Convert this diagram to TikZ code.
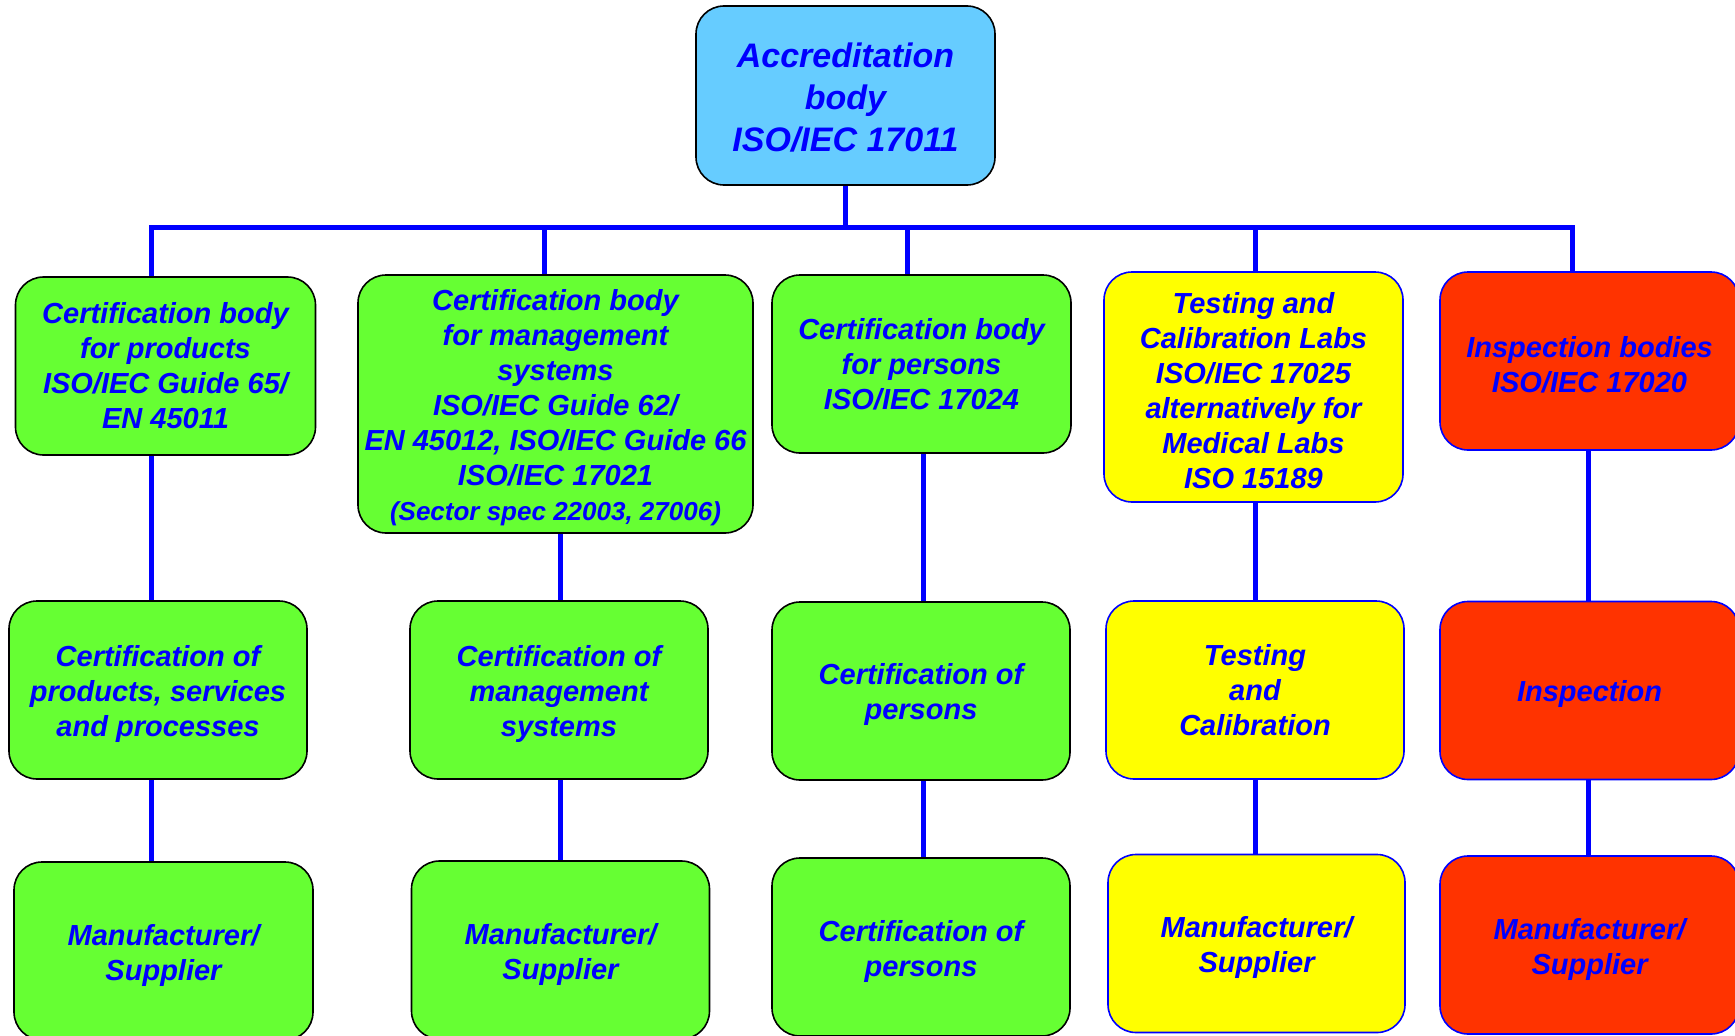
\documentclass[tikz,border=0pt]{standalone}
\usepackage{fontspec}
\setmainfont{Liberation Sans}
\usepackage{xcolor}
\usepackage{tikz}

\definecolor{accblue}{HTML}{66CCFF}
\definecolor{boxgreen}{HTML}{66FF33}
\definecolor{boxyellow}{HTML}{FFFF00}
\definecolor{boxred}{HTML}{FF3300}
\definecolor{txtblue}{HTML}{0000FF}

% pushes the first line down a little
\newcommand{\lift}{\rule{0pt}{29pt}}

\tikzset{
    orgbox/.style={draw=black, line width=1.6pt, rounded corners=28pt,
        minimum width=298pt, minimum height=178pt, inner sep=2pt,
        align=center, text=txtblue,
        font=\fontsize{29}{35}\selectfont\bfseries\itshape},
    greenbox/.style={orgbox, fill=boxgreen},
    yellowbox/.style={orgbox, fill=boxyellow, draw=txtblue},
    redbox/.style={orgbox, fill=boxred, draw=txtblue},
    link/.style={draw=txtblue, line width=5pt},
}

\begin{document}
\begin{tikzpicture}[x=1pt,y=-1pt]
    \useasboundingbox (0,0) rectangle (1735,1036);
    % Draw the accreditation body
    \node[orgbox, fill=accblue, minimum width=299pt, minimum height=179pt,
        font=\fontsize{34}{42}\selectfont\bfseries\itshape] (acc) at (845.5,95.5)
        {\lift Accreditation\\body\\ISO/IEC 17011};
    % Draw the bodies
    \node[greenbox, minimum width=300pt] (cbp) at (165.5,366)
        {Certification body\\for products\\ISO/IEC Guide 65/\\EN 45011};
    \node[greenbox, minimum width=395pt, minimum height=258pt] (cbm) at (555.5,404)
        {\lift Certification body\\for management\\systems\\ISO/IEC Guide 62/\\EN 45012, ISO/IEC Guide 66\\ISO/IEC 17021\\{\fontsize{26}{30}\selectfont(Sector spec 22003, 27006)}};
    \node[greenbox, minimum width=299pt] (cbpers) at (921.5,364)
        {Certification body\\for persons\\ISO/IEC 17024};
    \node[yellowbox, minimum width=299pt, minimum height=230pt] (lab) at (1253.5,387)
        {\lift Testing and\\Calibration Labs\\ISO/IEC 17025\\alternatively for\\Medical Labs\\ISO 15189};
    \node[redbox, minimum width=299pt] (insp) at (1589.5,361)
        {\lift Inspection bodies\\ISO/IEC 17020};
    % Draw the certification fields
    \node[greenbox] (certprod) at (158,690) {\lift Certification of\\products, services\\and processes};
    \node[greenbox] (certmgmt) at (559,690) {\lift Certification of\\management\\systems};
    \node[greenbox] (certpers) at (921,691) {\lift Certification of\\persons};
    \node[yellowbox] (testcal) at (1255,690) {Testing\\and\\Calibration};
    \node[redbox, minimum width=299pt] (inspect) at (1589.5,690.5) {\lift Inspection};
    % Draw the clients
    \node[greenbox, minimum width=299pt] (mfr1) at (163.5,951) {\lift Manufacturer/\\Supplier};
    \node[greenbox] (mfr2) at (560.5,950) {\lift Manufacturer/\\Supplier};
    \node[greenbox] (pers) at (921,947) {\lift Certification of\\persons};
    \node[yellowbox, minimum width=297pt] (mfr4) at (1256.5,943.5) {\lift Manufacturer/\\Supplier};
    \node[redbox, minimum width=299pt] (mfr5) at (1589.5,945) {\lift Manufacturer/\\Supplier};
    % Draw the bus
    \coordinate (t1) at (151,227);
    \coordinate (t2) at (544,227);
    \coordinate (t3) at (907,227);
    \coordinate (t4) at (1255,227);
    \coordinate (t5) at (1572,227);
    \coordinate (c1) at (151,0);
    \coordinate (c2) at (560,0);
    \coordinate (c3) at (923,0);
    \coordinate (c4) at (1255,0);
    \coordinate (c5) at (1588,0);
    \draw[link] (acc.south) -- (acc.south |- t1);
    \draw[link, line join=miter] (cbp.north -| t1) -- (t1) -- (t5) -- (insp.north -| t5);
    \draw[link] (t2) -- (cbm.north -| t2);
    \draw[link] (t3) -- (cbpers.north -| t3);
    \draw[link] (t4) -- (lab.north -| t4);
    % Draw the columns
    \draw[link] (cbp.south -| c1) -- (certprod.north -| c1);
    \draw[link] (certprod.south -| c1) -- (mfr1.north -| c1);
    \draw[link] (cbm.south -| c2) -- (certmgmt.north -| c2);
    \draw[link] (certmgmt.south -| c2) -- (mfr2.north -| c2);
    \draw[link] (cbpers.south -| c3) -- (certpers.north -| c3);
    \draw[link] (certpers.south -| c3) -- (pers.north -| c3);
    \draw[link] (lab.south -| c4) -- (testcal.north -| c4);
    \draw[link] (testcal.south -| c4) -- (mfr4.north -| c4);
    \draw[link] (insp.south -| c5) -- (inspect.north -| c5);
    \draw[link] (inspect.south -| c5) -- (mfr5.north -| c5);
\end{tikzpicture}
\end{document}
